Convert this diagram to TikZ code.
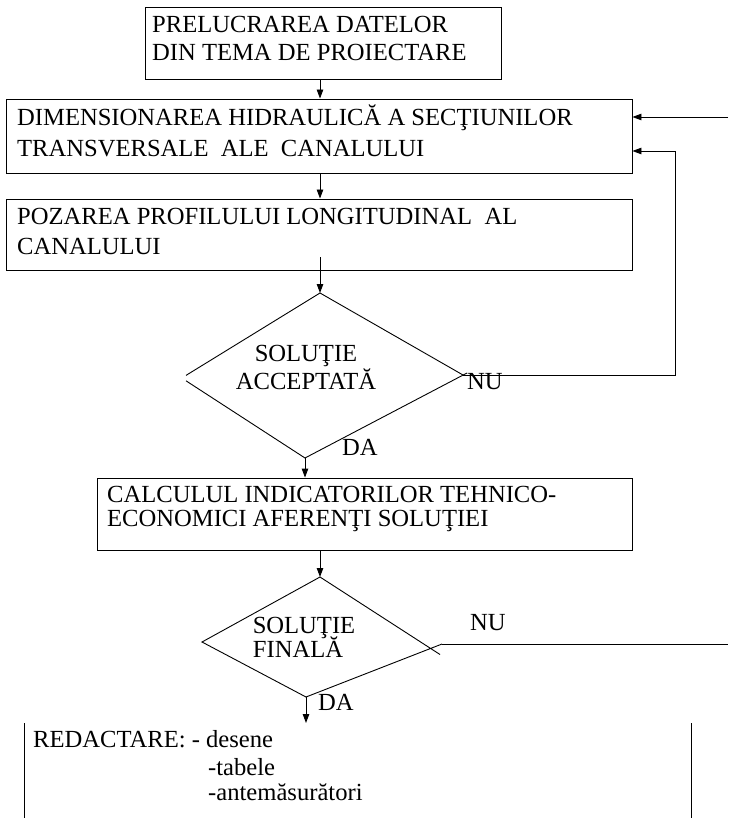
\documentclass[tikz,border=0pt]{standalone}
\usepackage{fontspec}
\setmainfont{Liberation Serif}
\usetikzlibrary{arrows.meta}
\newcommand\flowfont{\fontsize{24.6}{30}\selectfont}
\begin{document}
\begin{tikzpicture}[x=1pt,y=-1pt,
  box/.style={draw, line width=0.9pt, inner sep=0pt},
  flow/.style={line width=0.9pt},
  arr/.style={flow, -{Triangle[length=9pt,width=6.5pt]}},
  lbl/.style={anchor=base west, inner sep=0pt, font=\flowfont},
  ctr/.style={anchor=base, inner sep=0pt, font=\flowfont}]
\useasboundingbox (0,0) rectangle (728,818);

% process boxes
\node[box, minimum width=356pt, minimum height=72pt] (b1) at (323,43) {};
\node[box, minimum width=626pt, minimum height=74pt] (b2) at (319,136) {};
\node[box, minimum width=626pt, minimum height=71pt] (b3) at (319,234.5) {};
\node[box, minimum width=535pt, minimum height=72pt] (b4) at (364.5,514) {};

% box texts
\node[lbl] (t11) at (152,33) {PRELUCRAREA DATELOR};
\node[lbl] (t12) at (152,61) {DIN TEMA DE PROIECTARE};
\node[lbl] (t21) at (17,126) {DIMENSIONAREA HIDRAULICĂ A SECŢIUNILOR};
\node[lbl] (t22) at (17,157) {TRANSVERSALE\ \ ALE\ \ CANALULUI};
\node[lbl] (t31) at (17,225) {POZAREA PROFILULUI LONGITUDINAL\ \ AL};
\node[lbl] (t32) at (17,254) {CANALULUI};
\node[lbl] (t41) at (107,502) {CALCULUL INDICATORILOR TEHNICO-};
\node[lbl] (t42) at (107,526) {ECONOMICI AFERENŢI SOLUŢIEI};

% first decision: edges cross slightly at the side corners
\coordinate (d1t) at (320,293);
\coordinate (d1r) at (463,375);
\coordinate (d1b) at (305,458);
\coordinate (d1l) at (190,378);
\coordinate (d1lo) at (186,375.4);
\coordinate (d1lu) at (186,380.8);
\coordinate (d1ro) at (467,373);
\draw[flow] (d1lo) -- (d1t) -- (d1r);
\draw[flow] (d1lu) -- (d1b) -- (d1ro);
\node[ctr] (d1a) at (306,361) {SOLUŢIE};
\node[ctr] (d1c) at (306,389) {ACCEPTATĂ};
\node[lbl] (d1nu) at (467,389) {NU};
\node[lbl] (d1da) at (342,455) {DA};

% second decision
\coordinate (d2t) at (320,577);
\coordinate (d2b) at (306,697);
\coordinate (d2l) at (202,642);
\coordinate (d2ro) at (440,654.5);
\coordinate (d2r) at (442,644);
\draw[flow] (d2ro) -- (d2t) -- (d2l) -- (d2b) -- (d2r);
\node[ctr] (d2a) at (304,633) {SOLUŢIE};
\node[ctr] (d2c) at (298,657) {FINALĂ};
\node[lbl] (d2nu) at (470,630) {NU};
\node[lbl] (d2da) at (318,710) {DA};

% final open frame
\coordinate (r5tl) at (24,723);
\coordinate (r5bl) at (24,818);
\coordinate (r5tr) at (691,723);
\coordinate (r5br) at (691,818);
\draw[flow] (r5tl) -- (r5bl);
\draw[flow] (r5tr) -- (r5br);
\node[lbl] (t51) at (33,747) {REDACTARE: - desene};
\node[lbl] (t52) at (208,775) {-tabele};
\node[lbl] (t53) at (208,800) {-antemăsurători};

% connectors
\coordinate (spine) at (320,0);
\draw[arr] (b1.south -| spine) -- (b2.north -| spine);
\draw[arr] (b2.south -| spine) -- (b3.north -| spine);
\coordinate (b3out) at (320,257);
\draw[arr] (b3out) -- (d1t);
\draw[arr] (d1b) -- (d1b |- b4.north);
\coordinate (loopc) at (675,375);
\coordinate (looptop) at (675,151);
\draw[arr] (d1r) -- (loopc) -- (looptop) -- (looptop -| b2.east);
\coordinate (fromfinal) at (728,117);
\draw[arr] (fromfinal) -- (fromfinal -| b2.east);
\draw[arr] (b4.south -| spine) -- (d2t);
\coordinate (d2exit) at (728,644);
\draw[flow] (d2r) -- (d2exit);
\coordinate (r5in) at (306,723);
\draw[arr] (d2b) -- (r5in);
\end{tikzpicture}
\end{document}
